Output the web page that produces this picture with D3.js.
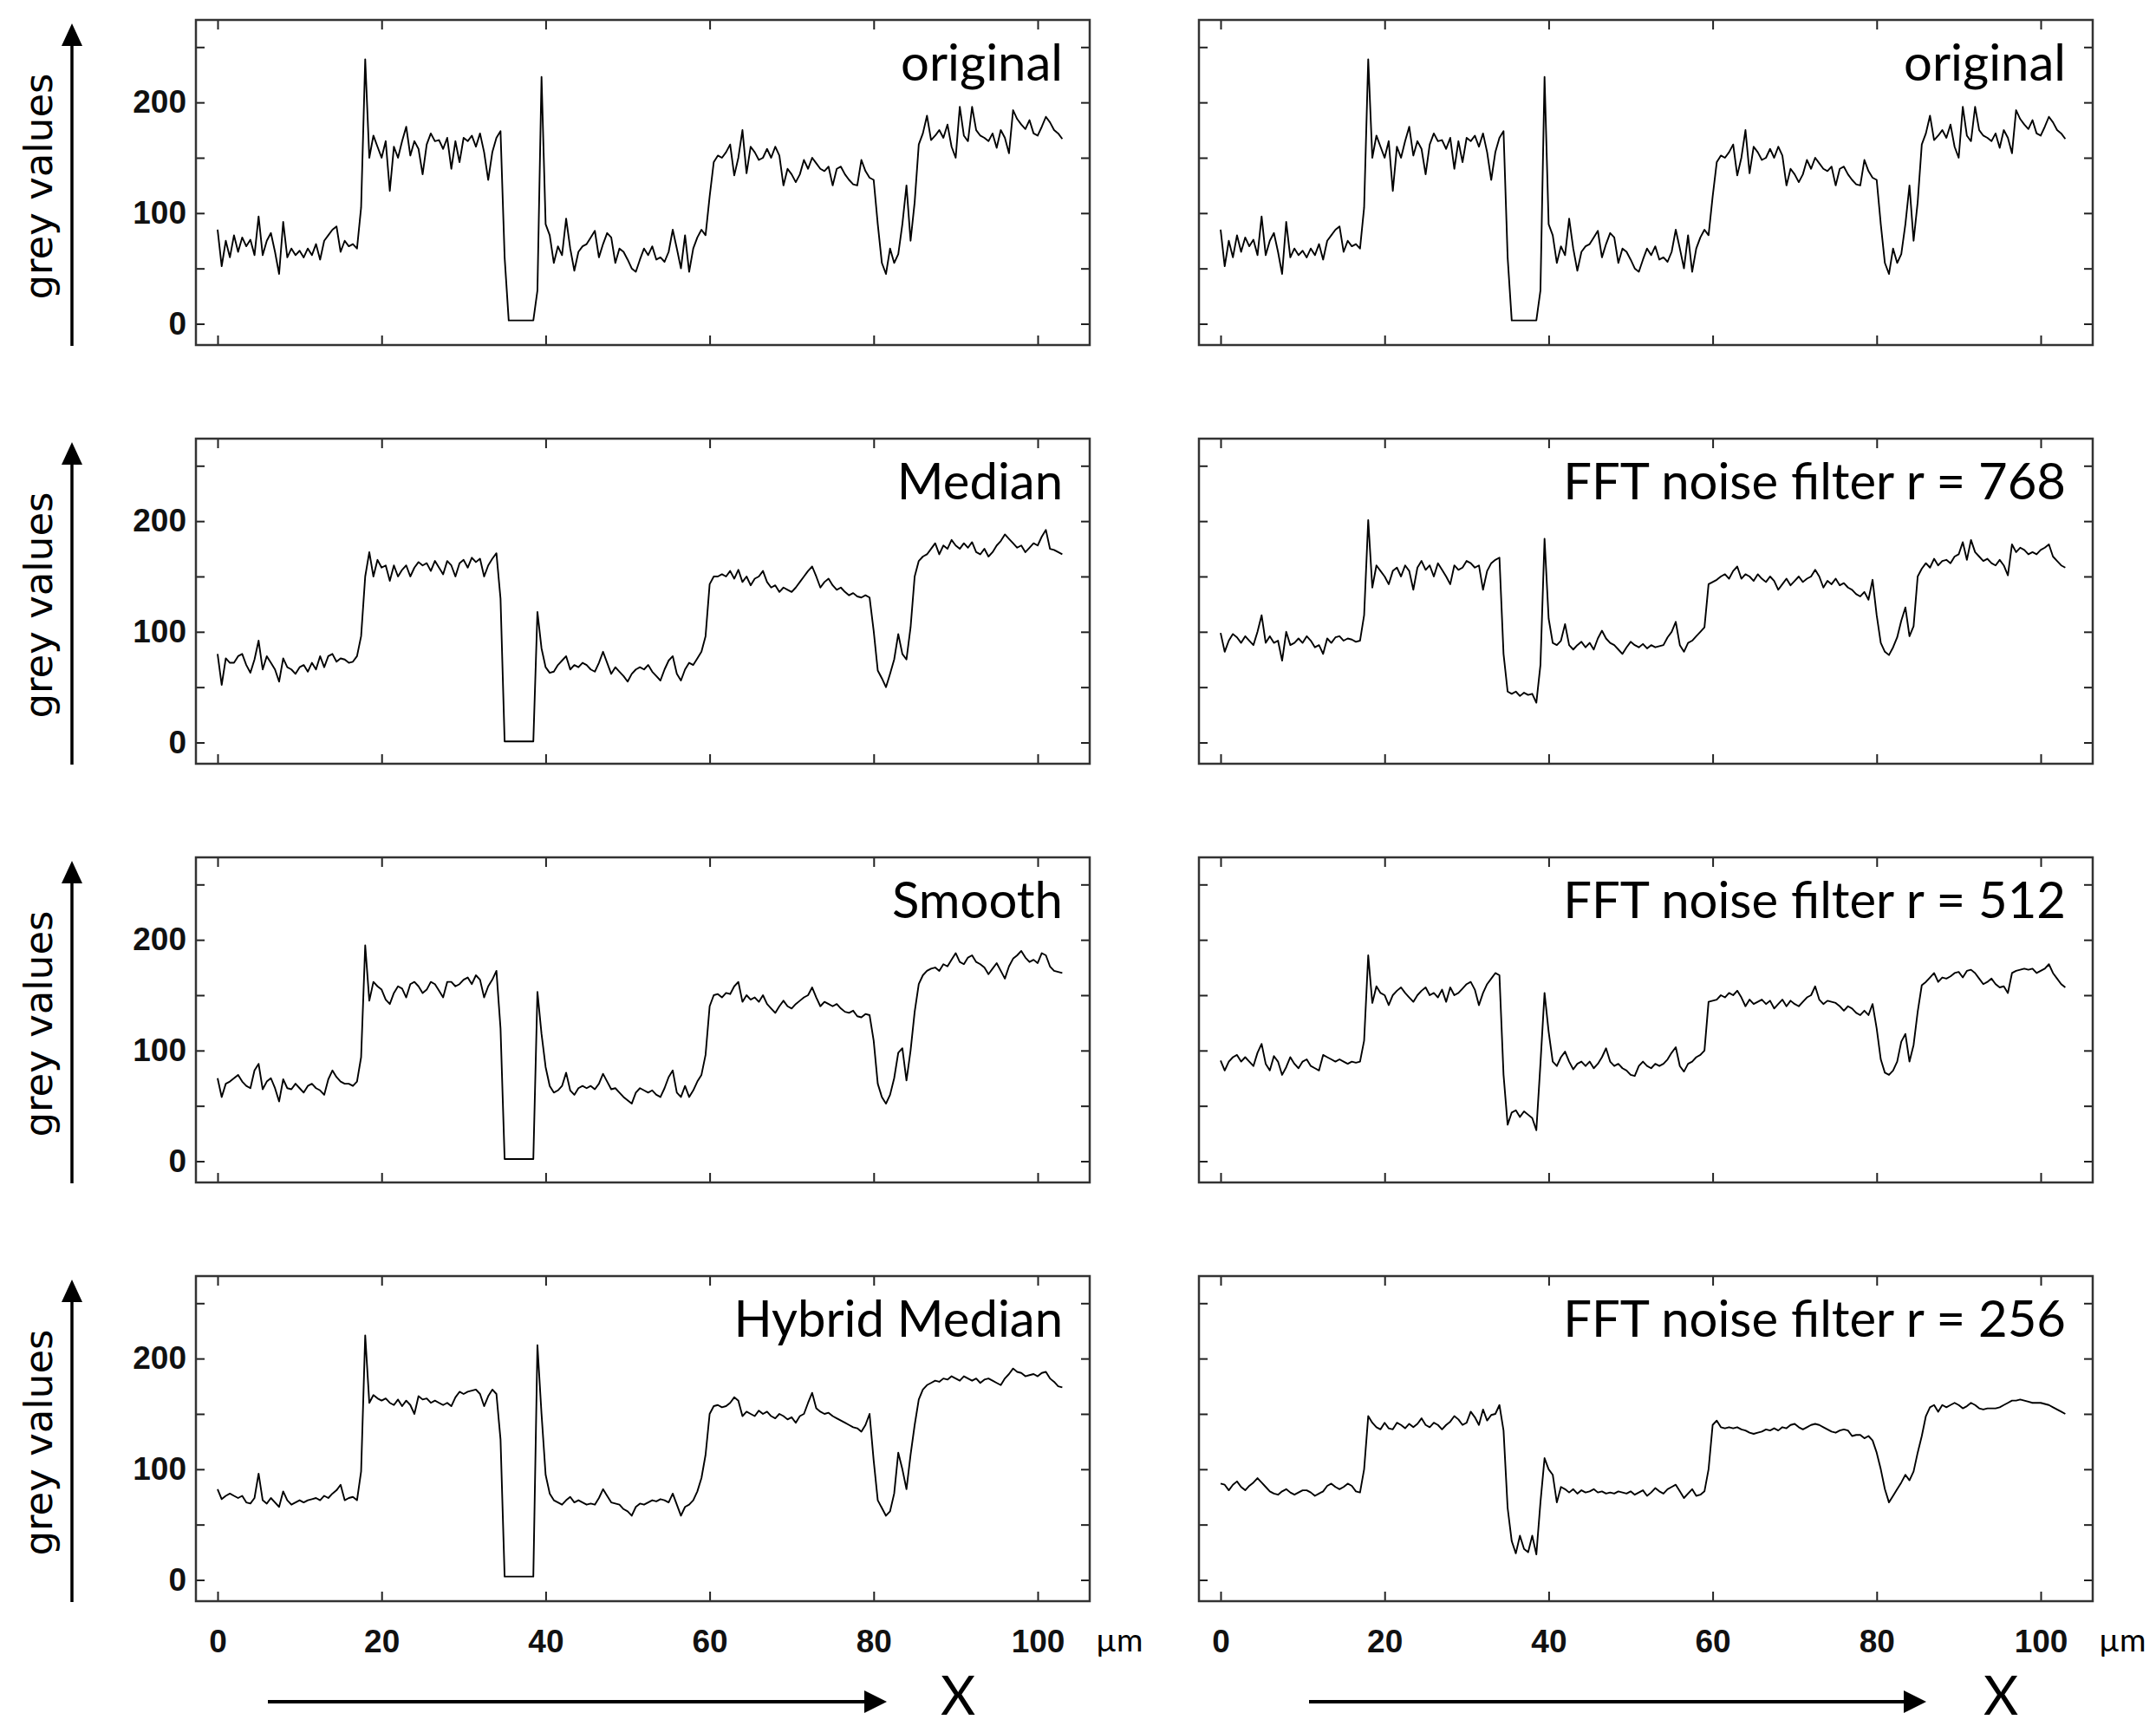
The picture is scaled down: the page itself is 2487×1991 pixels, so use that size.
<!DOCTYPE html>
<html>
<head>
<meta charset="utf-8">
<script src="https://d3js.org/d3.v7.min.js"></script>
<style>
  body { margin: 0; background: #ffffff; }
  .tickLabel { font-family: "Liberation Sans", Arial, sans-serif; font-size: 37px; font-weight: bold; fill: #111; }
  .title { font-family: Lato, "Open Sans", sans-serif; font-size: 58px; fill: #000; }
</style>
</head>
<body>
<script>
// sample positions along the profile, in µm (one sample every 0.5 µm, 0 .. 103)
var xPos = d3.range(0, 103.25, 0.5);

// grey values, one value per sample position
var original = [
  85, 52, 75, 60, 80, 65, 78, 70, 76, 62,
  97, 62, 75, 82, 65, 45, 92, 60, 68, 62,
  66, 60, 68, 62, 72, 58, 75, 80, 85, 88,
  65, 75, 70, 72, 68, 105, 239, 150, 170, 160,
  150, 165, 120, 160, 150, 165, 178, 152, 165, 158,
  135, 162, 172, 165, 166, 158, 168, 140, 165, 146,
  168, 165, 170, 160, 172, 155, 130, 155, 168, 174,
  60, 3, 3, 3, 3, 3, 3, 3, 30, 223,
  90, 80, 55, 70, 62, 95, 68, 48, 65, 70,
  72, 78, 84, 60, 72, 82, 78, 55, 68, 65,
  58, 50, 47, 58, 68, 62, 70, 58, 60, 56,
  65, 85, 68, 50, 80, 47, 68, 78, 85, 80,
  115, 146, 152, 150, 155, 162, 134, 150, 175, 136,
  160, 155, 148, 150, 158, 150, 160, 152, 125, 140,
  135, 128, 135, 148, 140, 150, 145, 140, 138, 142,
  125, 140, 142, 135, 130, 126, 125, 148, 138, 132,
  130, 90, 55, 45, 68, 55, 63, 90, 125, 75,
  110, 162, 172, 188, 166, 170, 175, 168, 180, 160,
  150, 196, 170, 165, 196, 175, 170, 168, 165, 172,
  159, 175, 168, 154, 193, 185, 180, 176, 184, 172,
  170, 178, 187, 182, 175, 172, 167
];

var median = [
  80, 52, 76, 72, 72, 78, 80, 70, 63, 75,
  92, 66, 78, 72, 66, 55, 76, 68, 66, 62,
  68, 70, 64, 72, 66, 78, 68, 78, 80, 73,
  76, 75, 72, 73, 78, 96, 150, 172, 150, 165,
  158, 160, 146, 160, 150, 156, 160, 150, 158, 163,
  160, 162, 155, 164, 158, 152, 164, 160, 150, 162,
  165, 158, 167, 163, 166, 150, 160, 166, 171, 130,
  1, 1, 1, 1, 1, 1, 1, 1, 118, 85,
  68, 63, 64, 70, 74, 78, 66, 70, 68, 72,
  70, 66, 64, 72, 82, 72, 62, 68, 64, 60,
  55, 62, 66, 68, 66, 70, 64, 60, 56, 66,
  74, 78, 62, 56, 66, 72, 70, 76, 82, 96,
  143, 150, 150, 152, 150, 155, 148, 156, 145, 150,
  142, 148, 150, 155, 145, 140, 142, 136, 140, 138,
  136, 140, 145, 150, 155, 159, 150, 140, 145, 148,
  142, 138, 140, 136, 133, 135, 132, 131, 133, 131,
  101, 65, 58, 50, 62, 75, 98, 80, 75, 104,
  150, 164, 168, 170, 175, 180, 170, 178, 175, 183,
  178, 175, 180, 176, 181, 172, 170, 175, 168, 172,
  178, 182, 188, 184, 180, 176, 178, 172, 176, 180,
  178, 186, 192, 175, 174, 172, 170
];

var smooth = [
  75, 58, 70, 72, 75, 78, 72, 68, 66, 82,
  88, 65, 72, 75, 66, 54, 74, 66, 65, 70,
  66, 62, 68, 70, 66, 64, 60, 74, 82, 76,
  72, 70, 70, 68, 72, 94, 195, 145, 162, 158,
  155, 146, 142, 152, 158, 156, 148, 160, 162, 158,
  152, 155, 162, 160, 154, 148, 162, 162, 158, 160,
  164, 166, 160, 168, 164, 148, 158, 164, 172, 120,
  2, 2, 2, 2, 2, 2, 2, 2, 153, 115,
  85, 68, 62, 64, 68, 80, 64, 60, 66, 68,
  66, 68, 65, 70, 79, 72, 65, 66, 62, 58,
  55, 52, 62, 66, 64, 62, 64, 60, 58, 66,
  76, 82, 62, 58, 68, 58, 64, 72, 78, 96,
  140, 150, 151, 148, 152, 151, 158, 162, 144, 150,
  146, 148, 144, 150, 142, 138, 134, 140, 145, 140,
  138, 142, 145, 148, 150, 157, 148, 140, 144, 142,
  140, 142, 138, 135, 134, 136, 131, 130, 133, 132,
  109, 70, 58, 52, 60, 75, 98, 102, 73, 100,
  135, 160, 168, 172, 174, 175, 172, 178, 176, 182,
  188, 180, 178, 184, 186, 180, 178, 175, 169, 174,
  179, 172, 165, 176, 183, 186, 190, 184, 180, 182,
  179, 188, 186, 176, 172, 171, 170
];

var hybridMedian = [
  82, 73, 76, 78, 76, 74, 76, 70, 69, 74,
  96, 72, 69, 74, 70, 66, 80, 72, 68, 70,
  72, 70, 72, 73, 74, 72, 76, 74, 78, 81,
  86, 72, 74, 75, 72, 98, 221, 160, 167, 164,
  162, 164, 160, 158, 163, 157, 162, 158, 150, 166,
  163, 164, 160, 162, 160, 158, 160, 157, 165, 170,
  168, 170, 171, 172, 168, 157, 166, 172, 168, 127,
  3, 3, 3, 3, 3, 3, 3, 3, 212, 150,
  95, 78, 72, 70, 68, 72, 75, 70, 72, 70,
  68, 69, 68, 74, 82, 76, 70, 69, 68, 64,
  62, 58, 66, 69, 68, 70, 72, 71, 73, 72,
  70, 78, 68, 58, 66, 68, 72, 80, 92, 113,
  150, 157, 158, 156, 157, 160, 165, 162, 148, 152,
  150, 148, 153, 150, 152, 148, 146, 150, 148, 145,
  147, 142, 148, 150, 160, 169, 155, 152, 150, 151,
  148, 146, 144, 142, 140, 138, 137, 134, 140, 150,
  108, 72, 65, 58, 62, 78, 115, 100, 82, 113,
  140, 163, 172, 176, 178, 180, 179, 182, 181, 184,
  182, 180, 184, 182, 180, 182, 178, 181, 182, 180,
  178, 176, 182, 186, 191, 188, 187, 184, 185, 186,
  184, 187, 188, 182, 179, 175, 174
];

var fft768 = [
  99, 82, 92, 98, 95, 90, 96, 92, 88, 100,
  115, 90, 96, 90, 92, 74, 100, 88, 90, 94,
  90, 96, 92, 86, 88, 80, 94, 90, 95, 96,
  92, 94, 93, 91, 92, 115, 201, 140, 160, 155,
  150, 143, 155, 158, 150, 160, 155, 138, 158, 164,
  156, 160, 150, 162, 156, 150, 143, 160, 156, 158,
  164, 162, 158, 160, 138, 155, 162, 165, 167, 80,
  46, 44, 46, 42, 45, 43, 44, 36, 70, 184,
  112, 90, 88, 92, 107, 88, 84, 88, 91, 86,
  90, 84, 94, 101, 94, 90, 88, 84, 80, 86,
  91, 88, 86, 89, 85, 88, 86, 87, 88, 95,
  100, 109, 88, 82, 90, 92, 96, 100, 104, 143,
  145, 147, 150, 152, 148, 155, 159, 148, 152, 150,
  146, 152, 148, 145, 150, 146, 138, 143, 148, 142,
  146, 150, 145, 148, 150, 156, 150, 140, 146, 143,
  148, 142, 144, 140, 138, 134, 132, 136, 129, 147,
  115, 90, 82, 79, 86, 95, 110, 122, 96, 105,
  150, 157, 162, 158, 166, 160, 164, 165, 162, 168,
  170, 181, 165, 183, 172, 168, 164, 166, 162, 160,
  165, 160, 151, 179, 172, 176, 174, 170, 172, 170,
  174, 176, 179, 168, 164, 160, 158
];

var fft512 = [
  91, 82, 90, 94, 96, 90, 94, 90, 86, 98,
  106, 88, 82, 95, 90, 78, 85, 94, 88, 84,
  90, 92, 86, 84, 82, 96, 94, 92, 90, 92,
  90, 88, 90, 89, 90, 109, 186, 143, 158, 152,
  150, 141, 150, 154, 157, 152, 148, 144, 150, 154,
  157, 150, 152, 148, 155, 144, 157, 150, 152, 156,
  160, 162, 155, 141, 152, 160, 165, 170, 168, 78,
  33, 44, 46, 40, 45, 42, 39, 28, 88, 152,
  117, 90, 86, 94, 99, 90, 83, 88, 90, 86,
  90, 84, 88, 94, 102, 90, 86, 88, 84, 82,
  78, 77, 86, 90, 86, 84, 88, 86, 88, 92,
  98, 103, 86, 81, 88, 90, 94, 96, 100, 144,
  145, 146, 150, 148, 152, 150, 154, 148, 140, 146,
  142, 144, 146, 142, 145, 138, 142, 146, 140, 145,
  142, 140, 144, 148, 150, 158, 146, 142, 145, 144,
  143, 140, 136, 140, 138, 134, 132, 136, 132, 142,
  120, 92, 80, 78, 82, 90, 108, 115, 90, 105,
  135, 159, 162, 166, 170, 162, 166, 165, 167, 170,
  171, 166, 172, 173, 170, 165, 160, 162, 165, 160,
  157, 158, 152, 170, 172, 173, 174, 173, 174, 170,
  172, 174, 178, 170, 165, 160, 157
];

var fft256 = [
  87, 86, 81, 86, 89, 84, 81, 85, 88, 92,
  88, 84, 80, 78, 77, 80, 82, 79, 77, 79,
  81, 81, 79, 76, 78, 80, 85, 87, 84, 82,
  84, 87, 85, 80, 79, 100, 148, 142, 138, 136,
  142, 137, 136, 142, 140, 137, 141, 138, 141, 146,
  140, 138, 142, 140, 136, 140, 143, 148, 145, 140,
  142, 152, 147, 140, 154, 144, 149, 150, 158, 135,
  65, 35, 24, 40, 28, 25, 40, 23, 70, 110,
  100, 95, 70, 84, 82, 79, 82, 78, 81, 79,
  80, 82, 79, 80, 78, 79, 78, 80, 79, 78,
  80, 77, 79, 81, 76, 79, 83, 80, 78, 82,
  84, 86, 80, 74, 78, 82, 76, 77, 80, 100,
  140, 144, 138, 137, 138, 137, 138, 136, 135, 133,
  132, 133, 134, 136, 135, 137, 135, 138, 137, 140,
  141, 138, 136, 138, 140, 141, 140, 138, 136, 134,
  133, 135, 136, 135, 130, 131, 131, 128, 130, 126,
  115, 100, 82, 70, 76, 82, 88, 95, 90, 98,
  115, 130, 148, 156, 158, 152, 158, 156, 158, 160,
  158, 155, 157, 160, 158, 155, 154, 155, 155, 155,
  156, 158, 160, 162, 162, 163, 162, 161, 160, 160,
  160, 159, 158, 156, 154, 152, 150
];

// panel titles, left column then right column
var leftTitles = ["original", "Median", "Smooth", "Hybrid Median"];
var rightTitles = ["original", "FFT noise filter r = 768", "FFT noise filter r = 512", "FFT noise filter r = 256"];

// axis ticks
var xTicks = [0, 20, 40, 60, 80, 100];
var yTicks = [0, 50, 100, 150, 200, 250];
var yLabelValues = [0, 100, 200];

window.onload = function() {
    var svg = d3.select("body")
        .append("svg")
        .attr("width", 2487)
        .attr("height", 1991)
        .style("background-color", "#ffffff");

    // panel geometry
    var panelW = 1031,
        panelH = 375,
        rowStep = 483,
        firstTop = 23,
        colX = [226, 1383];

    var leftSeries = [original, median, smooth, hybridMedian];
    var rightSeries = [original, fft768, fft512, fft256];

    // build the list of the eight panels
    var panels = [];
    for (var r = 0; r < 4; r++) {
        panels.push({ col: 0, row: r, title: leftTitles[r], values: leftSeries[r] });
        panels.push({ col: 1, row: r, title: rightTitles[r], values: rightSeries[r] });
    }

    // scales are the same inside each panel
    var x = d3.scaleLinear().domain([0, 100]).range([25, 971]);
    var y = d3.scaleLinear().domain([0, 250]).range([350.5, 31.3]);

    var line = d3.line()
        .x(function(d) { return x(d[0]); })
        .y(function(d) { return y(d[1]); });

    panels.forEach(function(p) {
        var top = firstTop + p.row * rowStep;
        var g = svg.append("g")
            .attr("transform", "translate(" + colX[p.col] + "," + top + ")");

        // profile line
        g.append("path")
            .datum(d3.zip(xPos, p.values))
            .attr("d", line)
            .style("fill", "none")
            .style("stroke", "#000")
            .style("stroke-width", 1.9)
            .style("stroke-linejoin", "round");

        // ticks pointing into the frame on all four sides
        var isBottomRow = p.row === 3;
        var bottomAxis = d3.axisBottom(x)
            .tickValues(xTicks)
            .tickSize(-11)
            .tickPadding(33)
            .tickFormat(isBottomRow ? d3.format("d") : function() { return ""; });
        var topAxis = d3.axisTop(x).tickValues(xTicks).tickSize(-11).tickFormat("");
        var leftAxis = d3.axisLeft(y)
            .tickValues(yTicks)
            .tickSize(-10)
            .tickPadding(11)
            .tickFormat(function(d) {
                return (p.col === 0 && yLabelValues.indexOf(d) >= 0) ? d : "";
            });
        var rightAxis = d3.axisRight(y).tickValues(yTicks).tickSize(-10).tickFormat("");

        [
            [bottomAxis, "translate(0," + panelH + ")"],
            [topAxis, "translate(0,0)"],
            [leftAxis, "translate(0,0)"],
            [rightAxis, "translate(" + panelW + ",0)"]
        ].forEach(function(a) {
            var ag = g.append("g")
                .attr("transform", a[1])
                .call(a[0]);
            ag.select(".domain").remove();
            ag.selectAll(".tick line")
                .style("stroke", "#222")
                .style("stroke-width", 2);
            ag.selectAll(".tick text")
                .attr("class", "tickLabel")
                .attr("font-family", null)
                .attr("font-size", null)
                .attr("fill", null);
        });

        // frame around the plot
        g.append("rect")
            .attr("x", 0)
            .attr("y", 0)
            .attr("width", panelW)
            .attr("height", panelH)
            .style("fill", "none")
            .style("stroke", "#333")
            .style("stroke-width", 2.5);

        // filter name in the upper right corner
        g.append("text")
            .attr("class", "title")
            .attr("text-anchor", "end")
            .attr("x", 1000)
            .attr("y", 70)
            .text(p.title);

        // unit after the last x label
        if (isBottomRow) {
            g.append("text")
                .attr("class", "title")
                .style("font-size", "37px")
                .attr("x", 1038)
                .attr("y", panelH + 58)
                .text("µm");
        }

        // y axis name and arrow on the left column only
        if (p.col === 0) {
            svg.append("text")
                .attr("transform", "translate(44," + (top + 192) + ") rotate(-90)")
                .attr("text-anchor", "middle")
                .attr("dominant-baseline", "central")
                .style("font-family", "'DejaVu Sans', Verdana, sans-serif")
                .style("font-size", "45px")
                .style("fill", "#000")
                .text("grey values");

            svg.append("line")
                .attr("x1", 83).attr("x2", 83)
                .attr("y1", top + 376).attr("y2", top + 26)
                .style("stroke", "#000")
                .style("stroke-width", 3.5);

            svg.append("path")
                .attr("d", "M83," + (top + 4) + " L71," + (top + 30) + " L95," + (top + 30) + " Z")
                .style("fill", "#000");
        }
    });

    // x direction arrows below each column
    var arrowY = 1963;
    [[309, 1023, 1105], [1510, 2222, 2308]].forEach(function(a) {
        svg.append("line")
            .attr("x1", a[0]).attr("x2", a[1] - 20)
            .attr("y1", arrowY).attr("y2", arrowY)
            .style("stroke", "#000")
            .style("stroke-width", 4);
        svg.append("path")
            .attr("d", "M" + a[1] + "," + arrowY + " L" + (a[1] - 26) + "," + (arrowY - 13) +
                  " L" + (a[1] - 26) + "," + (arrowY + 13) + " Z")
            .style("fill", "#000");
        svg.append("text")
            .attr("class", "title")
            .style("font-size", "62px")
            .attr("text-anchor", "middle")
            .attr("x", a[2])
            .attr("y", 1978)
            .text("X");
    });
}
</script>
</body>
</html>
